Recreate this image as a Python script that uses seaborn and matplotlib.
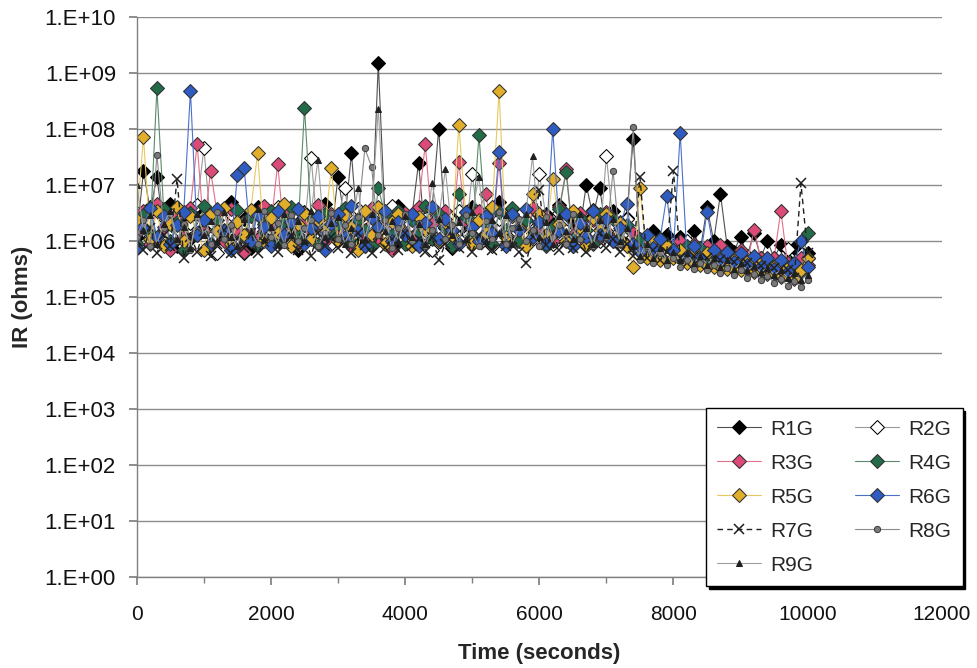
import numpy as np
import pandas as pd
import matplotlib
matplotlib.use("Agg")
import matplotlib.pyplot as plt
from matplotlib.ticker import FixedLocator, FuncFormatter, MultipleLocator
import seaborn as sns

# sampling grid (seconds)
time_s = list(range(0, 10001, 100))

# insulation resistance per series, in megaohms
R1G = [1.2, 18, 3.5, 14, 1.6, 4.5, 0.8, 2.4, 1.1, 3.8,
       1.8, 0.7, 3.0, 1.2, 5.0, 0.9, 2.5, 0.75, 4.0, 1.5,
       2.8, 1.0, 4.2, 1.4, 0.7, 3.3, 2.0, 0.9, 4.6, 1.3,
       14, 2.2, 37, 1.0, 3.2, 1.5, 1500, 2.6, 0.8, 4.3,
       1.4, 2.7, 25, 1.1, 3.6, 100, 1.7, 0.75, 3.0, 1.5,
       4.0, 1.0, 2.4, 1.4, 5.0, 0.85, 2.9, 1.8, 0.9, 3.7,
       1.3, 3.1, 2.0, 4.4, 1.0, 2.3, 1.5, 10, 2.8, 9,
       1.4, 3.5, 1.1, 2.6, 65, 1.0, 0.7, 1.5, 0.6, 1.3,
       0.8, 1.2, 0.65, 1.5, 0.7, 4.0, 1.0, 7.0, 0.8, 0.65,
       1.2, 0.55, 1.4, 0.5, 1.0, 0.5, 0.85, 0.45, 0.75, 0.4, 0.6]
R2G = [3.2, 1.6, 4.0, 1.0, 2.6, 1.3, 3.6, 0.8, 2.1, 4.4,
       45, 2.2, 0.6, 1.5, 3.0, 0.9, 0.6, 3.5, 1.1, 2.5,
       1.6, 4.0, 1.0, 2.8, 0.8, 1.9, 30, 1.3, 3.3, 0.9,
       2.6, 9, 1.2, 3.8, 0.8, 2.0, 3.1, 1.1, 4.2, 1.5,
       2.3, 1.0, 3.5, 1.4, 0.7, 2.8, 1.8, 0.9, 3.4, 1.2,
       16, 1.6, 3.0, 0.8, 2.5, 1.3, 3.7, 1.0, 2.1, 1.1,
       16, 2.7, 0.9, 3.2, 1.5, 0.8, 2.3, 1.2, 3.6, 1.0,
       33, 2.0, 0.9, 2.5, 1.2, 0.7, 1.1, 0.6, 0.9, 0.5,
       0.8, 0.6, 1.0, 0.5, 0.75, 0.45, 0.7, 0.4, 0.6, 0.45,
       0.38, 0.55, 0.33, 0.5, 0.3, 0.45, 0.27, 0.72, 0.3, 0.4, 0.5]
R3G = [1.4, 3.4, 0.9, 4.5, 1.8, 0.7, 2.7, 1.2, 3.9, 55,
       1.5, 18, 3.0, 1.0, 3.8, 1.6, 0.65, 2.8, 1.1, 4.2,
       1.9, 24, 1.2, 3.4, 0.9, 2.3, 1.5, 4.4, 1.0, 3.0,
       1.7, 3.6, 0.8, 2.5, 1.3, 3.9, 1.1, 2.7, 0.7, 1.9,
       3.2, 1.2, 4.1, 54, 2.0, 1.0, 3.4, 1.5, 26, 2.3,
       1.1, 3.5, 7.0, 1.4, 25, 0.9, 2.8, 1.8, 0.8, 3.9,
       1.5, 2.7, 1.0, 4.0, 19, 1.3, 3.2, 0.9, 2.4, 1.2,
       3.3, 1.1, 2.2, 0.8, 1.4, 0.7, 1.2, 0.6, 1.1, 0.8,
       0.7, 1.0, 0.6, 0.9, 0.55, 0.8, 0.5, 0.85, 0.55, 0.45,
       0.7, 0.4, 1.6, 0.5, 0.38, 0.5, 3.5, 0.4, 0.33, 0.5, 0.38]
R4G = [0.9, 2.9, 1.4, 540, 3.7, 1.0, 2.2, 0.7, 3.2, 1.3,
       4.3, 0.9, 2.4, 1.6, 0.7, 3.6, 1.2, 2.8, 0.8, 2.0,
       3.4, 1.0, 2.2, 4.0, 1.3, 240, 2.5, 0.9, 3.1, 1.4,
       2.0, 3.9, 1.0, 2.4, 1.6, 0.8, 9.0, 2.9, 1.3, 3.5,
       0.9, 2.4, 1.5, 4.2, 1.1, 3.0, 1.8, 0.8, 7.0, 2.7,
       1.3, 78, 2.0, 0.9, 3.3, 1.6, 3.9, 1.0, 2.4, 1.4,
       2.9, 0.8, 1.8, 3.7, 17, 1.1, 2.6, 1.6, 0.9, 3.1,
       1.3, 2.5, 1.0, 1.9, 0.8, 1.1, 0.6, 1.0, 0.55, 0.85,
       0.7, 0.5, 0.8, 0.55, 0.75, 0.45, 0.65, 0.4, 0.6, 0.38,
       0.55, 0.33, 0.5, 0.3, 0.45, 0.27, 0.42, 0.25, 0.4, 0.28, 1.4]
R5G = [2.4, 72, 1.1, 3.4, 0.8, 2.0, 4.1, 1.0, 2.8, 1.4,
       0.7, 3.0, 1.5, 3.9, 0.9, 2.2, 1.3, 3.6, 37, 1.0,
       2.6, 1.4, 4.6, 0.8, 2.0, 3.2, 1.1, 2.4, 1.6, 20,
       1.0, 2.9, 1.8, 0.7, 3.5, 1.3, 4.0, 0.9, 2.2, 3.1,
       1.4, 0.8, 2.7, 1.6, 3.8, 1.0, 2.2, 1.3, 120, 3.3,
       0.9, 2.4, 1.4, 4.1, 480, 1.2, 2.8, 1.7, 0.8, 7.0,
       3.1, 1.3, 13, 2.0, 1.0, 3.5, 1.4, 0.8, 2.6, 1.6,
       3.0, 1.0, 2.1, 0.8, 0.35, 9.0, 0.5, 1.0, 0.45, 0.8,
       0.5, 0.7, 0.4, 0.65, 0.38, 0.6, 0.35, 0.5, 0.32, 0.45,
       0.3, 0.42, 0.28, 0.4, 0.26, 0.35, 0.23, 0.33, 0.21, 0.3, 0.5]
R6G = [0.75, 1.8, 3.9, 1.2, 2.8, 0.9, 1.9, 3.3, 480, 1.3,
       2.4, 0.9, 3.7, 1.5, 0.7, 15, 20, 1.0, 2.9, 1.8,
       0.8, 3.4, 1.3, 2.2, 3.7, 0.9, 1.7, 2.8, 0.7, 2.0,
       3.1, 1.2, 4.2, 1.5, 0.8, 2.6, 1.8, 3.5, 1.0, 2.2,
       1.3, 3.0, 0.8, 2.1, 4.0, 1.1, 2.5, 1.6, 0.9, 3.3,
       1.8, 1.0, 2.8, 1.4, 39, 0.8, 3.1, 1.6, 3.8, 1.2,
       2.2, 0.9, 100, 1.5, 3.0, 0.8, 2.1, 1.2, 3.5, 1.3,
       2.5, 1.0, 1.7, 4.6, 0.9, 0.65, 1.3, 0.75, 1.1, 6.3,
       0.7, 85, 0.55, 0.8, 0.5, 3.3, 0.7, 0.45, 0.65, 0.42,
       0.6, 0.38, 0.55, 0.35, 0.5, 0.32, 0.45, 0.28, 0.4, 1.0, 0.35]
R7G = [1.0, 0.7, 1.7, 0.6, 1.3, 0.8, 13, 0.5, 1.2, 0.65,
       1.5, 0.55, 0.9, 1.6, 0.6, 1.1, 0.75, 1.4, 0.6, 0.95,
       1.2, 0.65, 0.9, 1.5, 0.7, 1.1, 0.55, 1.4, 0.8, 1.2,
       0.75, 1.1, 0.6, 1.4, 0.85, 0.6, 1.3, 0.75, 1.1, 0.7,
       1.4, 0.8, 1.1, 0.65, 1.2, 0.45, 0.9, 1.5, 0.75, 1.1,
       0.65, 1.3, 0.85, 0.7, 1.4, 0.8, 1.1, 0.65, 0.4, 1.2,
       8.0, 0.85, 1.4, 0.7, 1.1, 0.75, 1.3, 0.65, 0.95, 1.4,
       0.75, 1.1, 0.65, 0.9, 0.55, 14, 0.5, 0.7, 0.45, 0.65,
       18, 0.5, 0.4, 0.55, 0.38, 0.5, 0.35, 0.45, 0.32, 0.42,
       0.3, 0.4, 0.28, 0.36, 0.26, 0.33, 0.24, 0.3, 0.22, 10.7, 0.6]
R8G = [1.2, 2.4, 0.8, 35, 1.7, 3.0, 1.0, 2.0, 0.7, 2.7,
       1.4, 0.9, 3.3, 1.1, 1.9, 0.8, 2.5, 1.5, 0.9, 3.5,
       1.2, 2.1, 0.85, 2.9, 1.0, 1.7, 2.4, 0.8, 1.4, 3.2,
       1.1, 1.9, 0.9, 2.7, 45, 21, 1.3, 2.4, 0.75, 1.7,
       3.0, 1.0, 2.1, 0.8, 1.6, 2.6, 1.1, 1.9, 0.9, 2.9,
       1.4, 0.8, 2.3, 1.1, 3.3, 0.9, 1.7, 2.5, 1.0, 1.6,
       0.8, 2.7, 1.2, 1.9, 0.9, 3.0, 1.1, 1.7, 0.8, 2.4,
       1.2, 18, 0.9, 1.6, 110, 0.45, 0.8, 0.4, 0.6, 0.38,
       0.5, 0.35, 0.45, 0.32, 0.4, 0.3, 0.38, 0.27, 0.33, 0.25,
       0.3, 0.22, 0.26, 0.2, 0.24, 0.18, 0.21, 0.16, 0.19, 0.15, 0.2]
R9G = [10, 1.6, 2.9, 0.9, 2.0, 3.5, 1.1, 1.8, 0.75, 3.0,
       1.3, 2.3, 1.0, 3.3, 1.2, 0.8, 2.5, 1.5, 3.7, 1.1,
       1.8, 0.9, 3.0, 1.3, 2.3, 1.0, 3.4, 28, 1.2, 2.1,
       2.7, 0.9, 1.7, 9.0, 1.1, 3.1, 230, 1.5, 2.3, 1.0,
       2.8, 1.2, 2.0, 0.9, 11, 2.5, 19, 1.3, 2.2, 1.1,
       3.3, 14, 1.0, 2.4, 1.4, 2.9, 0.9, 1.8, 3.1, 33,
       1.2, 2.2, 0.9, 2.8, 1.5, 1.1, 3.0, 1.7, 0.9, 2.4,
       1.3, 2.5, 1.0, 1.7, 0.8, 0.55, 0.9, 0.5, 0.75, 0.45,
       0.65, 0.45, 0.6, 0.4, 0.55, 0.38, 0.5, 0.35, 0.45, 0.32,
       0.4, 0.3, 0.36, 0.28, 0.33, 0.25, 0.3, 0.22, 0.27, 0.2, 0.25]

series_names = ["R1G", "R2G", "R3G", "R4G", "R5G", "R6G", "R7G", "R8G", "R9G"]
series_values = [R1G, R2G, R3G, R4G, R5G, R6G, R7G, R8G, R9G]
y_tick_exponents = list(range(0, 11))
x_ticks = [0, 2000, 4000, 6000, 8000, 10000, 12000]

frames = []
for name, vals in zip(series_names, series_values):
    frames.append(pd.DataFrame({"time": time_s,
                                "ir": np.asarray(vals) * 1e6,
                                "series": name}))
df = pd.concat(frames, ignore_index=True)

sns.set_theme(style="white")
plt.rcParams["font.family"] = ["Liberation Sans", "DejaVu Sans"]

MS = 7.5
styles = {
    "R1G": dict(color="#505050", marker="D", markersize=MS, markerfacecolor="black",
                markeredgecolor="black", linestyle="-", linewidth=0.8),
    "R2G": dict(color="#9a9a9a", marker="D", markersize=MS, markerfacecolor="white",
                markeredgecolor="black", linestyle="-", linewidth=0.8),
    "R3G": dict(color="#e0708c", marker="D", markersize=MS, markerfacecolor="#dc4a78",
                markeredgecolor="#303030", linestyle="-", linewidth=0.8),
    "R4G": dict(color="#5a8a6a", marker="D", markersize=MS, markerfacecolor="#236a48",
                markeredgecolor="#303030", linestyle="-", linewidth=0.8),
    "R5G": dict(color="#e8c860", marker="D", markersize=MS, markerfacecolor="#e0ae2a",
                markeredgecolor="#303030", linestyle="-", linewidth=0.8),
    "R6G": dict(color="#4a70c8", marker="D", markersize=MS, markerfacecolor="#2f5cc0",
                markeredgecolor="#303030", linestyle="-", linewidth=0.8),
    "R7G": dict(color="#202020", marker="x", markersize=7, markeredgewidth=1.1,
                markeredgecolor="#202020", linestyle=(0, (4, 3)), linewidth=1.0),
    "R8G": dict(color="#8a8a8a", marker="o", markersize=4.5, markerfacecolor="#7a7a7a",
                markeredgecolor="#404040", linestyle="-", linewidth=0.8),
    "R9G": dict(color="#a0a0a0", marker="^", markersize=4, markerfacecolor="#202020",
                markeredgecolor="#202020", linestyle="-", linewidth=0.8),
}

fig = plt.figure(figsize=(9.77, 6.68), dpi=100)
ax = fig.add_axes([0.140, 0.136, 0.824, 0.8386])

for name in series_names:
    sub = df[df["series"] == name]
    sns.lineplot(data=sub, x="time", y="ir", ax=ax, estimator=None, sort=False,
                 label=name, **styles[name])

ax.set_yscale("log")
ax.set_ylim(1e0, 1e10)
ax.set_xlim(0, 12000)
ax.yaxis.set_major_locator(FixedLocator([10.0 ** e for e in y_tick_exponents]))
ax.yaxis.set_minor_locator(FixedLocator([]))
ax.yaxis.set_major_formatter(FuncFormatter(lambda v, p: "1.E+%02d" % int(round(np.log10(v)))))
ax.xaxis.set_major_locator(FixedLocator(x_ticks))
ax.xaxis.set_minor_locator(MultipleLocator(1000))

ax.grid(False)
ax.yaxis.grid(True, which="major", color="#8c8c8c", linewidth=1.0)
for s in ["top", "right"]:
    ax.spines[s].set_visible(False)
for s in ["left", "bottom"]:
    ax.spines[s].set_color("#808080")
    ax.spines[s].set_linewidth(1.0)

ax.tick_params(axis="both", which="both", direction="out", color="#808080",
               labelsize=15, labelcolor="#111111")
ax.tick_params(axis="y", which="major", length=6, left=True, pad=9, labelsize=16)
ax.tick_params(axis="x", which="major", length=6, bottom=True, pad=14)
ax.tick_params(axis="x", which="minor", length=4, bottom=True)

ax.set_xlabel("Time (seconds)", fontsize=16, fontweight="bold", labelpad=14)
ax.set_ylabel("IR (ohms)", fontsize=16, fontweight="bold", labelpad=8)

handles, labels = ax.get_legend_handles_labels()
ax.get_legend().remove()
lookup = dict(zip(labels, handles))
order = ["R1G", "R3G", "R5G", "R7G", "R9G", "R2G", "R4G", "R6G", "R8G"]
leg = fig.legend([lookup[n] for n in order], order, loc="upper left",
                 bbox_to_anchor=(0.7226, 0.389), ncol=2, fontsize=15,
                 frameon=True, fancybox=False, edgecolor="black",
                 shadow={"color": "black", "alpha": 1.0},
                 handlelength=2.1, columnspacing=2.0, labelspacing=0.72,
                 handletextpad=0.45, borderpad=0.55, borderaxespad=0)
leg.get_frame().set_linewidth(1.0)

fig.savefig("out.png", dpi=100, facecolor="white")
